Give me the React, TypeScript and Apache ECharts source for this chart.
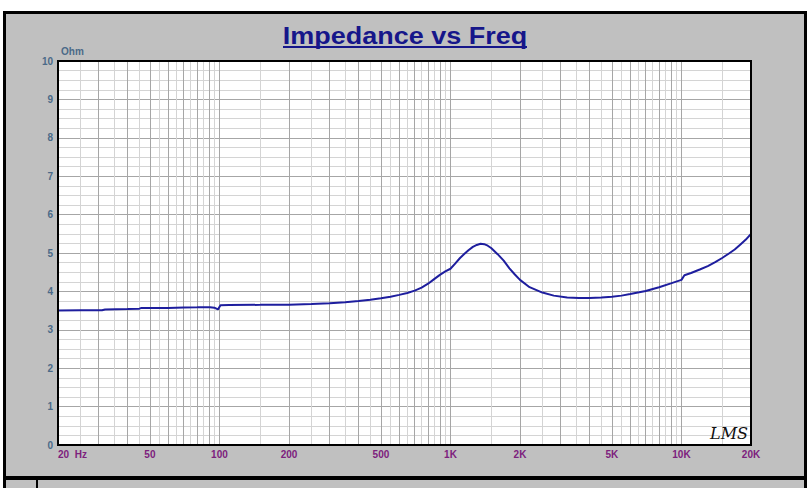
import React, { useEffect, useRef } from 'react';
import * as echarts from 'echarts';

const freqHz = [
  20, 25, 31, 32, 40, 45, 46, 60, 70, 80, 82, 91, 95, 98.5, 101, 110, 150, 200,
  250, 300, 350, 400, 450, 500, 550, 600, 650, 700, 750, 800, 850, 900, 950, 1000,
  1050, 1100, 1150, 1200, 1250, 1300, 1350, 1400, 1450, 1500, 1600, 1700, 1800,
  1900, 2000, 2200, 2500, 2800, 3200, 3600, 4000, 4500, 5000, 5500, 6000, 7000,
  8000, 9000, 10000, 10300, 11000, 12000, 13000, 14000, 15000, 16000, 17000,
  18000, 19000, 20000,
];
const impedanceOhm = [
  3.5, 3.51, 3.51, 3.53, 3.54, 3.55, 3.57, 3.57, 3.58, 3.585, 3.59, 3.59, 3.575,
  3.53, 3.64, 3.645, 3.65, 3.655, 3.67, 3.69, 3.72, 3.75, 3.78, 3.82, 3.86, 3.91,
  3.96, 4.02, 4.1, 4.2, 4.32, 4.43, 4.52, 4.59, 4.73, 4.87, 4.98, 5.08, 5.16, 5.21,
  5.24, 5.23, 5.19, 5.13, 4.97, 4.8, 4.6, 4.44, 4.3, 4.11, 3.97, 3.89, 3.84, 3.83,
  3.83, 3.84, 3.86, 3.89, 3.93, 4.01, 4.11, 4.21, 4.3, 4.42, 4.48, 4.57, 4.66,
  4.76, 4.87, 4.98, 5.09, 5.22, 5.35, 5.5,
];

// Axis labels
const tickFreqs = [20, 50, 100, 200, 500, 1000, 2000, 5000, 10000, 20000];
const tickLabels = ['20  Hz', '50', '100', '200', '500', '1K', '2K', '5K', '10K', '20K'];

// Grid line layout: lines at every half multiple in each decade
const decadeStarts = [10, 100, 1000, 10000];
const gridMultipliers = [1, 1.5, 2, 2.5, 3, 3.5, 4, 4.5, 5, 5.5, 6, 6.5, 7, 7.5, 8, 8.5, 9, 9.5];

const X_MIN = 20;
const X_MAX = 20000;

const MAJOR = '#a6a6a6';
const MINOR = '#d4d4d4';
const FONT = '"Liberation Sans", Arial, sans-serif';

export default function App() {
  const ref = useRef<HTMLDivElement>(null);

  useEffect(() => {
    if (!ref.current) return;
    const chart = echarts.init(ref.current, undefined, { renderer: 'svg' });

    const gridLineData: any[] = [];
    const seen = new Set<number>();
    decadeStarts.forEach((d) => {
      gridMultipliers.forEach((m) => {
        const f = Math.round(m * d);
        if (f <= X_MIN || f >= X_MAX || seen.has(f)) return;
        seen.add(f);
        gridLineData.push({
          xAxis: f,
          lineStyle: { color: Number.isInteger(m) ? MAJOR : MINOR, width: 1, type: 'solid' },
          label: { show: false },
        });
      });
    });

    const labelData = tickFreqs.map((f, i) => ({
      xAxis: f,
      lineStyle: { color: 'rgba(0,0,0,0)', width: 1 },
      label: {
        show: true,
        formatter: tickLabels[i],
        position: 'start',
        distance: 4,
        color: '#7d217d',
        fontSize: 10,
        fontWeight: 'bold',
        fontFamily: FONT,
        ...(i === 0 ? { align: 'left' } : {}),
      },
    }));

    chart.setOption({
      animation: false,
      backgroundColor: 'transparent',
      grid: {
        left: 58,
        top: 61,
        width: 693,
        height: 384,
        show: true,
        backgroundColor: '#ffffff',
        borderWidth: 0,
      },
      xAxis: {
        type: 'log',
        logBase: 10,
        min: X_MIN,
        max: X_MAX,
        axisLabel: { show: false },
        axisTick: { show: false },
        axisLine: { show: false },
        splitLine: { show: false },
      },
      yAxis: {
        type: 'value',
        min: 0,
        max: 10,
        interval: 1,
        name: 'Ohm',
        nameLocation: 'end',
        nameGap: 5,
        nameTextStyle: {
          align: 'left',
          color: '#4b6a88',
          fontSize: 10,
          fontWeight: 'bold',
          fontFamily: FONT,
          padding: [0, 0, 0, 3],
        },
        axisLabel: {
          color: '#4b6a88',
          fontSize: 10,
          fontWeight: 'bold',
          fontFamily: FONT,
          margin: 5,
        },
        axisLine: { show: false },
        axisTick: { show: false },
        splitLine: { show: true, lineStyle: { color: MAJOR, width: 1 } },
        minorTick: { show: false, splitNumber: 4 },
        minorSplitLine: { show: true, lineStyle: { color: MINOR, width: 1 } },
      },
      series: [
        {
          type: 'line',
          name: 'grid',
          data: [],
          silent: true,
          z: 1,
          markLine: {
            silent: true,
            symbol: 'none',
            animation: false,
            label: { show: false },
            emphasis: { disabled: true },
            data: gridLineData,
          },
        },
        {
          type: 'line',
          name: 'labels',
          data: [],
          silent: true,
          z: 6,
          markLine: {
            silent: true,
            symbol: 'none',
            animation: false,
            emphasis: { disabled: true },
            data: labelData,
          },
        },
        {
          type: 'line',
          name: 'Impedance',
          data: freqHz.map((f, i) => [f, impedanceOhm[i]]),
          showSymbol: false,
          symbol: 'none',
          z: 5,
          lineStyle: { color: '#1e1e9e', width: 2 },
        },
      ],
      graphic: [
        {
          type: 'rect',
          z: 100,
          silent: true,
          shape: { x: 58, y: 61, width: 693, height: 384 },
          style: { fill: 'none', stroke: '#000', lineWidth: 2 },
        },
        {
          type: 'text',
          z: 100,
          x: 405,
          y: 36,
          scaleX: 1.125,
          style: {
            text: 'Impedance vs Freq',
            fill: '#16168a',
            font: `bold 24px ${FONT}`,
            align: 'center',
            verticalAlign: 'middle',
          },
        },
        {
          type: 'line',
          z: 100,
          shape: { x1: 283, y1: 47, x2: 527, y2: 47 },
          style: { stroke: '#16168a', lineWidth: 2 },
        },
        {
          type: 'text',
          z: 100,
          x: 710,
          y: 433,
          style: {
            text: 'LMS',
            fill: '#111',
            font: `italic 16px "DejaVu Serif", serif`,
            align: 'left',
            verticalAlign: 'middle',
          },
        },
      ],
    });

    return () => chart.dispose();
  }, []);

  return (
    <div
      style={{
        position: 'absolute',
        left: 0,
        top: 0,
        width: 812,
        height: 488,
        overflow: 'hidden',
        background: '#ffffff',
      }}
    >
      <div
        style={{
          position: 'absolute',
          left: 3,
          top: 11,
          width: 804,
          height: 468,
          boxSizing: 'border-box',
          border: '3px solid #000',
          background: '#c0c0c0',
        }}
      />
      <div
        style={{
          position: 'absolute',
          left: 3,
          top: 477,
          width: 804,
          height: 30,
          boxSizing: 'border-box',
          border: '3px solid #000',
          background: '#c0c0c0',
        }}
      />
      <div
        style={{
          position: 'absolute',
          left: 36,
          top: 478,
          width: 2,
          height: 12,
          background: '#000',
        }}
      />
      <div ref={ref} style={{ position: 'absolute', left: 0, top: 0, width: 812, height: 488 }} />
    </div>
  );
}
